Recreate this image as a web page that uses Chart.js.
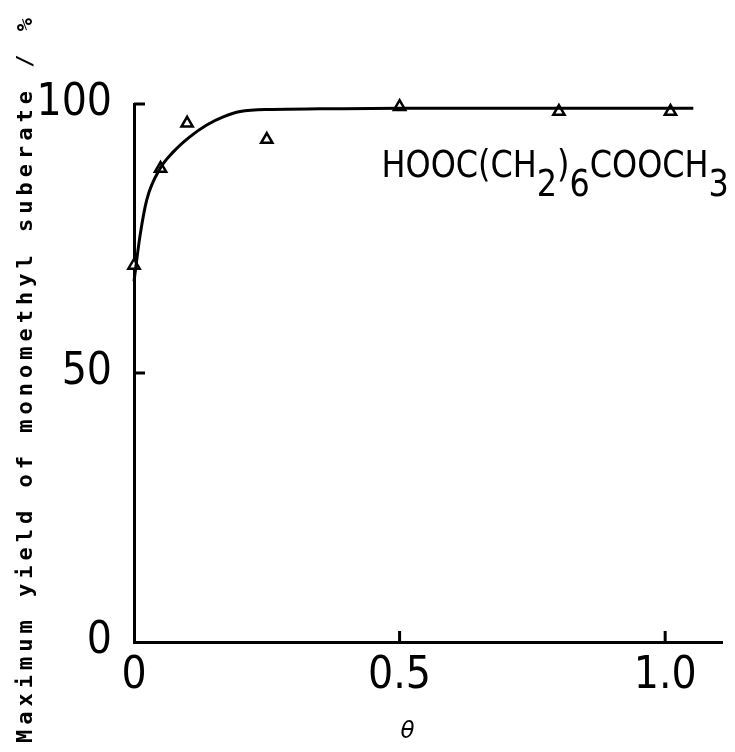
<!DOCTYPE html>
<html>
<head>
<meta charset="utf-8">
<script src="https://cdn.jsdelivr.net/npm/chart.js@4.4.1/dist/chart.umd.min.js"></script>
<style>
  html, body { margin: 0; padding: 0; background: #fff; }
  #chart { display: block; }
</style>
</head>
<body>
<canvas id="chart" width="735" height="752"></canvas>
<script>
// Data
const thetaPoints = [0, 0.05, 0.1, 0.25, 0.5, 0.8, 1.01];
const yieldPoints = [70, 88, 96.4, 93.4, 99.5, 98.6, 98.6];

// Hand-drawn fitted curve
const curveTheta = [0, 0.011, 0.024, 0.049, 0.074, 0.105, 0.137, 0.168, 0.2, 0.26, 0.35, 0.5, 0.8, 1.053];
const curveYield = [67, 75.3, 82.2, 88, 91.1, 93.9, 96.1, 97.6, 98.6, 99.0, 99.1, 99.2, 99.2, 99.2];

const xTicks = [0, 0.5, 1.0];
const xTickLabels = ['0', '0.5', '1.0'];
const yTicks = [0, 50, 100];
const yTickLabels = ['0', '50', '100'];

const xTitle = 'θ';
const yTitle = 'Maximum yield of monomethyl suberate / %';
// compound label, pieces with subscript flag
const compoundParts = [['HOOC(CH', false], ['2', true], [')', false], ['6', true], ['COOCH', false], ['3', true]];
const compoundFrom = [0.466, 86.4];
const compoundTo = 1.12;
const xTitleAt = 0.515;

document.addEventListener('DOMContentLoaded', function() {
    const ctx = document.getElementById('chart').getContext('2d');
    const tickFont = '"Liberation Sans Narrow", "DejaVu Sans Condensed", sans-serif';

    // Ticks inward + texts drawn on top
    const extrasPlugin = {
        id: 'extras',
        afterDraw(chart) {
            const c = chart.ctx;
            const xs = chart.scales.x;
            const ys = chart.scales.y;
            const area = chart.chartArea;
            c.save();
            c.strokeStyle = '#000';
            c.lineWidth = 3;
            c.beginPath();
            yTicks.forEach(function(v) {
                if (v === 0) return;
                const py = ys.getPixelForValue(v);
                c.moveTo(area.left, py);
                c.lineTo(area.left + 11, py);
            });
            xTicks.forEach(function(v) {
                if (v === 0) return;
                const px = xs.getPixelForValue(v);
                c.moveTo(px, area.bottom);
                c.lineTo(px, area.bottom - 11);
            });
            c.stroke();

            // theta under the axis
            c.fillStyle = '#000';
            c.font = 'italic 23px "DejaVu Sans", sans-serif';
            c.textAlign = 'center';
            c.textBaseline = 'middle';
            c.fillText(xTitle, xs.getPixelForValue(xTitleAt), area.bottom + 90);

            // y axis title, spaced typewriter letters
            c.translate(26, 378);
            c.rotate(-Math.PI / 2);
            c.font = 'bold 22px "DejaVu Sans Mono", monospace';
            c.letterSpacing = '5px';
            c.fillText(yTitle, 0, 0);
            c.restore();

            // compound formula, squeezed to the width it has in the figure
            c.save();
            c.fillStyle = '#000';
            c.font = '37px ' + tickFont;
            c.textBaseline = 'alphabetic';
            const x0 = xs.getPixelForValue(compoundFrom[0]);
            const base = ys.getPixelForValue(compoundFrom[1]);
            let total = 0;
            compoundParts.forEach(function(p) { total += c.measureText(p[0]).width; });
            const squeeze = (xs.getPixelForValue(compoundTo) - x0) / total;
            c.translate(x0, base);
            c.scale(squeeze, 1);
            let x = 0;
            compoundParts.forEach(function(p) {
                c.fillText(p[0], x, p[1] ? 19 : 0);
                x += c.measureText(p[0]).width;
            });
            c.restore();
        }
    };

    new Chart(ctx, {
        type: 'scatter',
        data: {
            datasets: [
                {
                    type: 'line',
                    data: curveTheta.map((t, i) => ({ x: t, y: curveYield[i] })),
                    borderColor: '#000',
                    borderWidth: 3,
                    pointRadius: 0,
                    cubicInterpolationMode: 'monotone',
                    fill: false,
                    clip: false
                },
                {
                    data: thetaPoints.map((t, i) => ({ x: t, y: yieldPoints[i] })),
                    pointStyle: 'triangle',
                    pointRadius: 6.5,
                    pointBorderWidth: 2.5,
                    borderColor: '#000',
                    backgroundColor: '#fff',
                    clip: false
                }
            ]
        },
        options: {
            responsive: false,
            animation: false,
            layout: { padding: { top: 104, right: 13, left: 0, bottom: 0 } },
            plugins: {
                legend: { display: false },
                tooltip: { enabled: false }
            },
            scales: {
                x: {
                    type: 'linear',
                    min: 0,
                    max: 1.107,
                    afterBuildTicks: function(scale) {
                        scale.ticks = xTicks.map(v => ({ value: v }));
                    },
                    afterFit: function(scale) { scale.height = 110; },
                    grid: { display: false },
                    border: { display: true, color: '#000', width: 3 },
                    ticks: {
                        color: '#000',
                        padding: 0,
                        maxRotation: 0,
                        font: { family: tickFont, size: 44 },
                        callback: function(v) { return xTickLabels[xTicks.indexOf(v)]; }
                    }
                },
                y: {
                    type: 'linear',
                    min: 0,
                    max: 100,
                    afterBuildTicks: function(scale) {
                        scale.ticks = yTicks.map(v => ({ value: v }));
                    },
                    afterFit: function(scale) { scale.width = 134; },
                    grid: { display: false },
                    border: { display: true, color: '#000', width: 3 },
                    ticks: {
                        color: '#000',
                        padding: 14,
                        font: { family: tickFont, size: 44 },
                        callback: function(v) { return yTickLabels[yTicks.indexOf(v)]; }
                    }
                }
            }
        },
        plugins: [extrasPlugin]
    });
});
</script>
</body>
</html>
